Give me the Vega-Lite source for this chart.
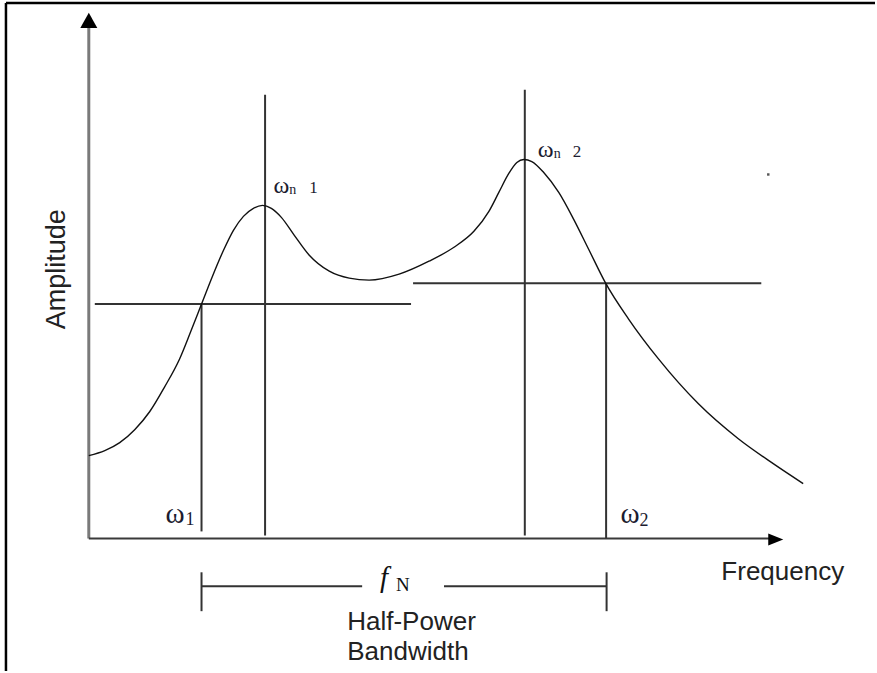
{
  "$schema": "https://vega.github.io/schema/vega-lite/v6.json",
  "width": 877,
  "height": 673,
  "autosize": {"type": "fit", "contains": "padding"},
  "padding": 0,
  "background": "white",
  "config": {"view": {"stroke": null}},
  "datasets": {
    "frame": [
      {"f": -1.186, "f2": 11.2571, "a": 10.74, "a2": 10.74},
      {"f": -1.186, "f2": -1.186, "a": 10.74, "a2": -2.66}
    ],
    "yaxis": [{"f": 0, "f2": 0, "a": 0, "a2": 10.3}],
    "xaxis": [{"f": 0, "f2": 9.757, "a": 0, "a2": 0}],
    "guides": [
      {"f": 1.614, "f2": 1.614, "a": 4.7, "a2": 0.14},
      {"f": 2.524, "f2": 2.524, "a": 8.9, "a2": 0.06},
      {"f": 6.243, "f2": 6.243, "a": 9.0, "a2": 0.06},
      {"f": 7.407, "f2": 7.407, "a": 5.12, "a2": 0},
      {"f": 0.086, "f2": 4.614, "a": 4.7, "a2": 4.7},
      {"f": 4.643, "f2": 9.629, "a": 5.12, "a2": 5.12},
      {"f": 1.614, "f2": 3.914, "a": -0.96, "a2": -0.96},
      {"f": 5.086, "f2": 7.414, "a": -0.96, "a2": -0.96},
      {"f": 1.614, "f2": 1.614, "a": -0.68, "a2": -1.46},
      {"f": 7.414, "f2": 7.414, "a": -0.68, "a2": -1.46}
    ],
    "curve": [
      {"f": 0, "a": 1.66},
      {"f": 0.229, "a": 1.76},
      {"f": 0.443, "a": 1.92},
      {"f": 0.657, "a": 2.18},
      {"f": 0.871, "a": 2.54},
      {"f": 1.086, "a": 3.04},
      {"f": 1.3, "a": 3.6},
      {"f": 1.457, "a": 4.14},
      {"f": 1.614, "a": 4.7},
      {"f": 1.771, "a": 5.26},
      {"f": 1.929, "a": 5.78},
      {"f": 2.071, "a": 6.18},
      {"f": 2.214, "a": 6.46},
      {"f": 2.357, "a": 6.62},
      {"f": 2.486, "a": 6.68},
      {"f": 2.614, "a": 6.62},
      {"f": 2.757, "a": 6.44},
      {"f": 2.943, "a": 6.08},
      {"f": 3.157, "a": 5.68},
      {"f": 3.443, "a": 5.36},
      {"f": 3.729, "a": 5.22},
      {"f": 4.014, "a": 5.18},
      {"f": 4.443, "a": 5.3},
      {"f": 4.871, "a": 5.56},
      {"f": 5.229, "a": 5.84},
      {"f": 5.514, "a": 6.16},
      {"f": 5.729, "a": 6.56},
      {"f": 5.871, "a": 6.94},
      {"f": 6.014, "a": 7.32},
      {"f": 6.129, "a": 7.54},
      {"f": 6.229, "a": 7.6},
      {"f": 6.343, "a": 7.56},
      {"f": 6.514, "a": 7.34},
      {"f": 6.729, "a": 6.94},
      {"f": 6.943, "a": 6.4},
      {"f": 7.157, "a": 5.8},
      {"f": 7.4, "a": 5.12},
      {"f": 7.729, "a": 4.4},
      {"f": 8.157, "a": 3.6},
      {"f": 8.729, "a": 2.7},
      {"f": 9.3, "a": 2.0},
      {"f": 9.8, "a": 1.5},
      {"f": 10.229, "a": 1.1}
    ],
    "arrowUp": [{"f": 0, "a": 10.39}],
    "arrowRight": [{"f": 9.836, "a": -0.02}],
    "speck": [{"f": 9.729, "a": 7.3}],
    "titles": [
      {"f": 9.057, "a": -0.84, "label": "Frequency"},
      {"f": 3.7, "a": -1.84, "label": "Half-Power"},
      {"f": 3.7, "a": -2.44, "label": "Bandwidth"}
    ],
    "ytitle": [{"f": -0.457, "a": 5.4, "label": "Amplitude"}],
    "fItalic": [{"f": 4.171, "a": -0.98, "label": "f"}],
    "fSub": [{"f": 4.4, "a": -1.06, "label": "N"}],
    "omegaBig": [
      {"f": 1.1, "a": 0.3, "label": "ω"},
      {"f": 7.614, "a": 0.3, "label": "ω"}
    ],
    "omegaBigIdx": [
      {"f": 1.386, "a": 0.26, "label": "1"},
      {"f": 7.886, "a": 0.24, "label": "2"}
    ],
    "omegaN": [
      {"f": 2.643, "a": 6.92, "label": "ω"},
      {"f": 6.429, "a": 7.66, "label": "ω"}
    ],
    "omegaNsub": [
      {"f": 2.871, "a": 6.9, "label": "n"},
      {"f": 6.657, "a": 7.64, "label": "n"}
    ],
    "omegaNidx": [
      {"f": 3.157, "a": 6.92, "label": "1"},
      {"f": 6.929, "a": 7.66, "label": "2"}
    ]
  },
  "encoding": {
    "x": {"field": "f", "type": "quantitative", "scale": {"domain": [-1.2714, 11.2571], "nice": false, "zero": false}, "axis": null},
    "y": {"field": "a", "type": "quantitative", "scale": {"domain": [-2.66, 10.8], "nice": false, "zero": false}, "axis": null}
  },
  "layer": [
    {
      "data": {"name": "frame"},
      "mark": {"type": "rule", "color": "black", "strokeWidth": 2.5},
      "encoding": {"x2": {"field": "f2"}, "y2": {"field": "a2"}}
    },
    {
      "data": {"name": "yaxis"},
      "mark": {"type": "rule", "color": "#7a7a7a", "strokeWidth": 3},
      "encoding": {"x2": {"field": "f2"}, "y2": {"field": "a2"}}
    },
    {
      "data": {"name": "xaxis"},
      "mark": {"type": "rule", "color": "#3a3a3a", "strokeWidth": 2},
      "encoding": {"x2": {"field": "f2"}, "y2": {"field": "a2"}}
    },
    {
      "data": {"name": "guides"},
      "mark": {"type": "rule", "color": "#333333", "strokeWidth": 2},
      "encoding": {"x2": {"field": "f2"}, "y2": {"field": "a2"}}
    },
    {
      "data": {"name": "curve"},
      "mark": {"type": "line", "color": "#111111", "strokeWidth": 1.4, "interpolate": "monotone"}
    },
    {
      "data": {"name": "arrowUp"},
      "mark": {"type": "point", "shape": "M0,-0.9L1,0.9L-1,0.9Z", "size": 289, "filled": true, "color": "black", "opacity": 1}
    },
    {
      "data": {"name": "arrowRight"},
      "mark": {"type": "point", "shape": "M1,0L-1,-0.8L-1,0.8Z", "size": 225, "filled": true, "color": "black", "opacity": 1}
    },
    {
      "data": {"name": "speck"},
      "mark": {"type": "point", "shape": "square", "size": 6, "filled": true, "color": "#555555", "opacity": 1}
    },
    {
      "data": {"name": "titles"},
      "mark": {"type": "text", "font": "Liberation Sans", "fontSize": 26, "align": "left", "baseline": "alphabetic", "color": "#222222"},
      "encoding": {"text": {"field": "label"}}
    },
    {
      "data": {"name": "ytitle"},
      "mark": {"type": "text", "font": "Liberation Sans", "fontSize": 27, "align": "center", "baseline": "middle", "angle": 270, "color": "#222222"},
      "encoding": {"text": {"field": "label"}}
    },
    {
      "data": {"name": "fItalic"},
      "mark": {"type": "text", "font": "Liberation Serif", "fontStyle": "italic", "fontSize": 29, "align": "left", "baseline": "alphabetic", "color": "#111111"},
      "encoding": {"text": {"field": "label"}}
    },
    {
      "data": {"name": "fSub"},
      "mark": {"type": "text", "font": "Liberation Serif", "fontSize": 19, "align": "left", "baseline": "alphabetic", "color": "#111111"},
      "encoding": {"text": {"field": "label"}}
    },
    {
      "data": {"name": "omegaBig"},
      "mark": {"type": "text", "font": "Liberation Serif", "fontSize": 29, "align": "left", "baseline": "alphabetic", "color": "#1c1c30"},
      "encoding": {"text": {"field": "label"}}
    },
    {
      "data": {"name": "omegaBigIdx"},
      "mark": {"type": "text", "font": "Liberation Serif", "fontSize": 18, "align": "left", "baseline": "alphabetic", "color": "#1c1c30"},
      "encoding": {"text": {"field": "label"}}
    },
    {
      "data": {"name": "omegaN"},
      "mark": {"type": "text", "font": "Liberation Serif", "fontSize": 24, "align": "left", "baseline": "alphabetic", "color": "#1c1c30"},
      "encoding": {"text": {"field": "label"}}
    },
    {
      "data": {"name": "omegaNsub"},
      "mark": {"type": "text", "font": "Liberation Serif", "fontSize": 14, "align": "left", "baseline": "alphabetic", "color": "#1c1c30"},
      "encoding": {"text": {"field": "label"}}
    },
    {
      "data": {"name": "omegaNidx"},
      "mark": {"type": "text", "font": "Liberation Serif", "fontSize": 17, "align": "left", "baseline": "alphabetic", "color": "#1c1c30"},
      "encoding": {"text": {"field": "label"}}
    }
  ]
}
